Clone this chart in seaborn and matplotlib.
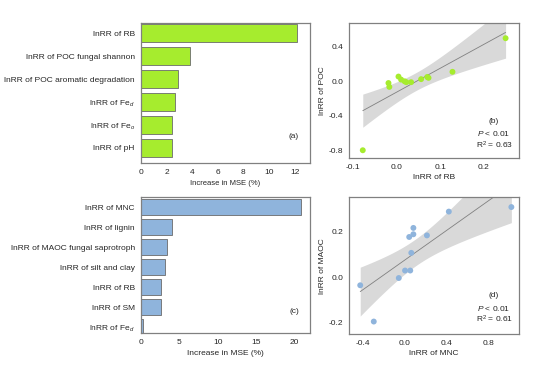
import pandas as pd
import numpy as np
import matplotlib
matplotlib.use("Agg")
import matplotlib.pyplot as plt
import seaborn as sns

sns.set_style("white")
plt.rcParams["font.family"] = ["Liberation Sans", "DejaVu Sans"]
plt.rcParams["mathtext.fontset"] = "custom"
plt.rcParams["mathtext.rm"] = "Liberation Sans"
plt.rcParams["mathtext.it"] = "Liberation Sans:italic"
plt.rcParams["axes.unicode_minus"] = False

# (a) importance for POC
poc_vars = ["lnRR of RB", "lnRR of POC fungal shannon", "lnRR of POC aromatic degradation",
            "lnRR of Fe$_d$", "lnRR of Fe$_o$", "lnRR of pH"]
poc_mse = [12.15, 3.83, 2.92, 2.66, 2.45, 2.44]

# (b) lnRR of RB vs lnRR of POC
rb_x = [-0.078, -0.019, -0.017, 0.004, 0.010, 0.018, 0.022, 0.033, 0.056, 0.070, 0.073, 0.128, 0.250]
poc_y = [-0.80, -0.02, -0.065, 0.055, 0.02, 0.0, -0.01, -0.01, 0.025, 0.05, 0.04, 0.11, 0.50]

# (c) importance for MAOC
maoc_vars = ["lnRR of MNC", "lnRR of lignin", "lnRR of MAOC fungal saprotroph",
             "lnRR of silt and clay", "lnRR of RB", "lnRR of SM", "lnRR of Fe$_d$"]
maoc_mse = [20.8, 4.0, 3.35, 3.1, 2.57, 2.57, 0.3]

# (d) lnRR of MNC vs lnRR of MAOC
mnc_x = [-0.43, -0.30, -0.06, 0.00, 0.05, 0.04, 0.06, 0.08, 0.08, 0.21, 0.42, 1.02]
maoc_y = [-0.035, -0.195, -0.003, 0.03, 0.03, 0.178, 0.108, 0.218, 0.19, 0.185, 0.29, 0.31]

green = "#a6ec2e"
blue = "#8fb4dc"
spine_c = "#808080"
fs = 6

fig = plt.figure(figsize=(5.53, 3.66), dpi=100)
ax_a = fig.add_axes([0.255, 0.5546, 0.3056, 0.3825])
ax_b = fig.add_axes([0.6316, 0.5683, 0.3063, 0.3697])
ax_c = fig.add_axes([0.255, 0.0902, 0.3056, 0.3708])
ax_d = fig.add_axes([0.6316, 0.0874, 0.3063, 0.3735])


def style(ax):
    for s in ax.spines.values():
        s.set_visible(True)
        s.set_color(spine_c)
        s.set_linewidth(0.9)
    ax.tick_params(labelsize=fs, length=2.5, width=0.6, color=spine_c, pad=2, direction="out")


def reg_panel(ax, x, y, col):
    # linear fit with analytic 95% confidence band
    x = np.asarray(x); y = np.asarray(y)
    n = len(x)
    b, a = np.polyfit(x, y, 1)
    grid = np.linspace(x.min(), x.max(), 100)
    fit = a + b * grid
    resid = y - (a + b * x)
    s = np.sqrt(np.sum(resid ** 2) / (n - 2))
    se = s * np.sqrt(1 / n + (grid - x.mean()) ** 2 / np.sum((x - x.mean()) ** 2))
    t = 2.2  # approx t(0.975, n-2)
    ax.fill_between(grid, fit - t * se, fit + t * se, color="#d9d9d9", lw=0, zorder=1)
    sns.lineplot(x=grid, y=fit, color="#808080", lw=0.6, ax=ax, zorder=2)
    sns.scatterplot(x=x, y=y, color=col, s=18, edgecolor="none", ax=ax, zorder=3)


# bar panels
df_a = pd.DataFrame({"var": poc_vars, "mse": poc_mse})
sns.barplot(data=df_a, x="mse", y="var", orient="h", color=green, saturation=1,
            edgecolor="#6b6b6b", linewidth=0.6, width=0.8, ax=ax_a)
ax_a.set_xlim(0, 13.2)
ax_a.set_ylim(5.67, -0.45)
ax_a.set_xticks([0, 2, 4, 6, 8, 10, 12])
ax_a.set_ylabel("")
ax_a.set_xlabel("Increase in MSE (%)", fontsize=5.5, labelpad=3)
ax_a.text(0.905, 0.19, "(a)", transform=ax_a.transAxes, fontsize=fs, ha="center", va="center")
style(ax_a)

df_c = pd.DataFrame({"var": maoc_vars, "mse": maoc_mse})
sns.barplot(data=df_c, x="mse", y="var", orient="h", color=blue, saturation=1,
            edgecolor="#6b6b6b", linewidth=0.6, width=0.82, ax=ax_c)
ax_c.set_xlim(0, 22.0)
ax_c.set_ylim(6.3, -0.49)
ax_c.set_xticks([0, 5, 10, 15, 20])
ax_c.set_ylabel("")
ax_c.set_xlabel("Increase in MSE (%)", fontsize=fs, labelpad=3)
ax_c.text(0.905, 0.16, "(c)", transform=ax_c.transAxes, fontsize=fs, ha="center", va="center")
style(ax_c)

# scatter panels
reg_panel(ax_b, rb_x, poc_y, green)
ax_b.set_xlim(-0.109, 0.28)
ax_b.set_ylim(-0.89, 0.68)
ax_b.set_xticks([-0.1, 0.0, 0.1, 0.2])
ax_b.set_yticks([-0.8, -0.4, 0.0, 0.4])
ax_b.set_xlabel("lnRR of RB", fontsize=fs, labelpad=2)
ax_b.set_ylabel("lnRR of POC", fontsize=fs, labelpad=2)
ax_b.text(0.85, 0.27, "(b)", transform=ax_b.transAxes, fontsize=fs, ha="center", va="center")
ax_b.text(0.85, 0.18, "$\\it{P}$ < 0.01", transform=ax_b.transAxes, fontsize=fs, ha="center", va="center")
ax_b.text(0.86, 0.096, "R$^2$ = 0.63", transform=ax_b.transAxes, fontsize=fs, ha="center", va="center")
style(ax_b)

reg_panel(ax_d, mnc_x, maoc_y, blue)
ax_d.set_xlim(-0.535, 1.09)
ax_d.set_ylim(-0.25, 0.353)
ax_d.set_xticks([-0.4, 0.0, 0.4, 0.8])
ax_d.set_yticks([-0.2, 0.0, 0.2])
ax_d.set_xlabel("lnRR of MNC", fontsize=fs, labelpad=2)
ax_d.set_ylabel("lnRR of MAOC", fontsize=fs, labelpad=2)
ax_d.text(0.85, 0.28, "(d)", transform=ax_d.transAxes, fontsize=fs, ha="center", va="center")
ax_d.text(0.85, 0.19, "$\\it{P}$ < 0.01", transform=ax_d.transAxes, fontsize=fs, ha="center", va="center")
ax_d.text(0.86, 0.107, "R$^2$ = 0.61", transform=ax_d.transAxes, fontsize=fs, ha="center", va="center")
style(ax_d)

fig.savefig("out.png", dpi=100)
